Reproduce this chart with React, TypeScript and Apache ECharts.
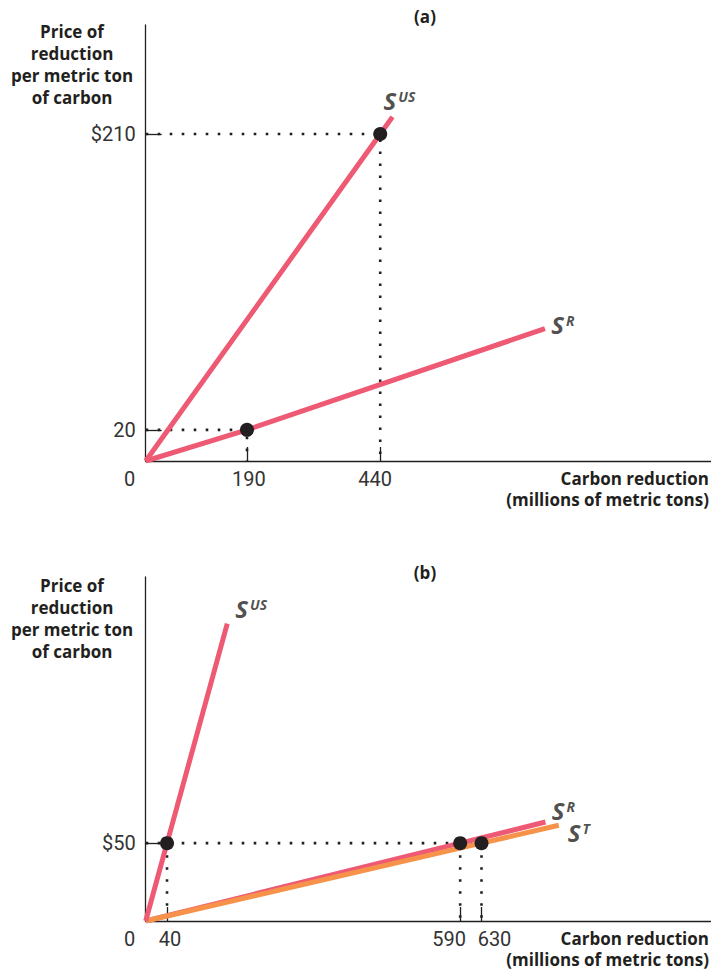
import React, { useEffect, useRef } from 'react';
import * as echarts from 'echarts';

// ---------- data ----------
// Panel (a)
const aXTicks = [0, 190, 440];
const aXLabels = ['0', '190', '440'];
const aYTicks = [20, 210];
const aYLabels = ['20', '$210'];
const aSupplyUS = [[0, 0], [440, 210], [463, 221]];
const aSupplyR = [[0, 0], [190, 20], [749, 85]];
const aPoints = [[440, 210], [190, 20]];

// Panel (b)
const bXTicks = [0, 40, 590, 630];
const bXLabels = ['0', '40', '590', '630'];
const bYTicks = [50];
const bYLabels = ['$50'];
const bSupplyUS = [[0, 0], [40, 50], [153, 191]];
const bSupplyR = [[0, 0], [590, 50], [750, 63.6]];
const bSupplyT = [[0, 0], [630, 50], [775, 61.5]];
const bPoints = [[40, 50], [590, 50], [630, 50]];

const yTitle = 'Price of\nreduction\nper metric ton\nof carbon';
const xTitle = 'Carbon reduction\n(millions of metric tons)';

// ---------- styles ----------
const PINK = '#EE5A74';
const ORANGE = '#F7924A';
const INK = '#231F20';
const BOLD_FONT = "'Open Sans', 'Noto Sans', sans-serif";
const TICK_FONT = "'Liberation Sans Narrow', Roboto, sans-serif";
const X_MAX = 1060;

// horizontal nudges (px) of tick labels, style only
const aLabelShift: Record<number, number> = { 0: -16, 190: 2, 440: -5 };
const bLabelShift: Record<number, number> = { 0: -16, 40: 3, 590: -11, 630: 13 };

function makeXAxis(gridIndex: number, ticks: number[], labels: string[], shift: Record<number, number>) {
  const rich: any = {};
  ticks.forEach((v) => {
    const s = shift[v] || 0;
    rich['t' + v] = {
      fontFamily: TICK_FONT,
      fontSize: 20,
      color: '#333',
      padding: s < 0 ? [0, -2 * s, 0, 0] : [0, 0, 0, 2 * s],
    };
  });
  return {
    type: 'value',
    gridIndex,
    min: 0,
    max: X_MAX,
    axisLine: { show: true, onZero: false, lineStyle: { color: INK, width: 1.3 } },
    splitLine: { show: false },
    axisTick: {
      show: true,
      inside: true,
      length: 14,
      customValues: ticks.filter((v) => v > 0),
      lineStyle: { color: INK, width: 1.3 },
    },
    axisLabel: {
      show: true,
      customValues: ticks,
      margin: 8,
      formatter: (v: number) => {
        const i = ticks.indexOf(v);
        return '{t' + v + '|' + (i >= 0 ? labels[i] : '') + '}';
      },
      rich,
    },
  };
}

function makeYAxis(gridIndex: number, max: number, ticks: number[], labels: string[]) {
  return {
    type: 'value',
    gridIndex,
    min: 0,
    max,
    axisLine: { show: true, onZero: false, lineStyle: { color: INK, width: 1.3 } },
    splitLine: { show: false },
    axisTick: {
      show: true,
      inside: true,
      length: 16,
      customValues: ticks,
      lineStyle: { color: INK, width: 1.3 },
    },
    axisLabel: {
      show: true,
      customValues: ticks,
      margin: 10,
      fontFamily: TICK_FONT,
      fontSize: 20,
      color: '#333',
      formatter: (v: number) => {
        const i = ticks.indexOf(v);
        return i >= 0 ? labels[i] : '';
      },
    },
  };
}

function curve(idx: number, data: number[][], color: string, z = 3) {
  return {
    type: 'line',
    xAxisIndex: idx,
    yAxisIndex: idx,
    data,
    symbol: 'none',
    silent: true,
    lineStyle: { color, width: 5, cap: 'butt' },
    z,
  };
}

function guide(idx: number, data: number[][]) {
  return {
    type: 'line',
    xAxisIndex: idx,
    yAxisIndex: idx,
    data,
    symbol: 'none',
    silent: true,
    lineStyle: { color: INK, width: 2.6, type: [2.6, 9.4], cap: 'butt' },
    z: 2,
  };
}

function dots(idx: number, data: number[][]) {
  return {
    type: 'scatter',
    xAxisIndex: idx,
    yAxisIndex: idx,
    data,
    symbol: 'circle',
    symbolSize: 14,
    itemStyle: { color: INK, opacity: 1 },
    silent: true,
    z: 6,
  };
}

const labelRich = {
  s: {
    fontFamily: BOLD_FONT,
    fontSize: 24,
    lineHeight: 22,
    fontWeight: 'bold',
    fontStyle: 'italic',
    color: INK,
  },
  sup: {
    fontFamily: BOLD_FONT,
    fontSize: 14,
    lineHeight: 11,
    verticalAlign: 'top',
    fontWeight: 'bold',
    fontStyle: 'italic',
    color: INK,
    padding: [0, 0, 0, 2],
  },
};

function curveLabels(idx: number, items: { end: number[]; name: string; offset: number[] }[]) {
  return {
    type: 'scatter',
    xAxisIndex: idx,
    yAxisIndex: idx,
    symbolSize: 1,
    silent: true,
    itemStyle: { color: 'rgba(0,0,0,0)' },
    label: { show: true, position: 'inside', rich: labelRich },
    data: items.map((it) => ({
      value: it.end,
      label: { formatter: '{s|S}{sup|' + it.name + '}', offset: it.offset },
    })),
    z: 7,
  };
}

const last = (a: number[][]) => a[a.length - 1];

const titleStyle = (text: string, align: string, lineHeight: number) => ({
  text,
  font: `bold 17px ${BOLD_FONT}`,
  lineHeight,
  fill: INK,
  align,
  verticalAlign: 'middle',
});

const option: any = {
  animation: false,
  backgroundColor: '#fff',
  grid: [
    { left: 145.7, top: 25, width: 565, height: 436 },
    { left: 145.7, top: 577, width: 565, height: 344 },
  ],
  xAxis: [makeXAxis(0, aXTicks, aXLabels, aLabelShift), makeXAxis(1, bXTicks, bXLabels, bLabelShift)],
  yAxis: [makeYAxis(0, 280, aYTicks, aYLabels), makeYAxis(1, 221, bYTicks, bYLabels)],
  series: [
    // panel (a)
    ...aPoints.map((p) => guide(0, [[0, p[1]], [p[0], p[1]], [p[0], 0]])),
    curve(0, aSupplyUS, PINK),
    curve(0, aSupplyR, PINK),
    dots(0, aPoints),
    curveLabels(0, [
      { end: last(aSupplyUS), name: 'US', offset: [7, -16] },
      { end: last(aSupplyR), name: 'R', offset: [18, -4] },
    ]),
    // panel (b)
    guide(1, [[0, bPoints[0][1]], [Math.max(...bPoints.map((p) => p[0])), bPoints[0][1]]]),
    ...bPoints.map((p) => guide(1, [[p[0], p[1]], [p[0], 0]])),
    curve(1, bSupplyR, PINK, 3),
    curve(1, bSupplyT, ORANGE, 4),
    curve(1, bSupplyUS, PINK, 4),
    dots(1, bPoints),
    curveLabels(1, [
      { end: last(bSupplyUS), name: 'US', offset: [24, -15] },
      { end: last(bSupplyR), name: 'R', offset: [18, -12] },
      { end: last(bSupplyT), name: 'T', offset: [20, 7] },
    ]),
  ],
  graphic: [
    { type: 'text', x: 425, y: 16, style: titleStyle('(a)', 'center', 20) },
    { type: 'text', x: 425, y: 572, style: titleStyle('(b)', 'center', 20) },
    { type: 'text', x: 72, y: 64.5, style: titleStyle(yTitle, 'center', 21.7) },
    { type: 'text', x: 72, y: 618.5, style: titleStyle(yTitle, 'center', 21.7) },
    { type: 'text', x: 709, y: 488.5, style: titleStyle(xTitle, 'right', 21) },
    { type: 'text', x: 709, y: 948.5, style: titleStyle(xTitle, 'right', 21) },
  ],
};

export default function App() {
  const ref = useRef<HTMLDivElement>(null);
  useEffect(() => {
    if (!ref.current) return;
    const chart = echarts.init(ref.current, null, { renderer: 'svg' });
    chart.setOption(option);
    return () => chart.dispose();
  }, []);
  return (
    <div
      ref={ref}
      style={{ position: 'absolute', left: 0, top: 0, width: 711, height: 970, background: '#fff' }}
    />
  );
}
